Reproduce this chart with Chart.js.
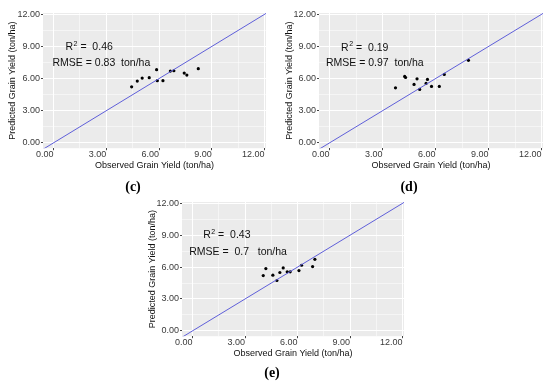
<!DOCTYPE html>
<html>
<head>
<meta charset="utf-8">
<script src="https://cdn.jsdelivr.net/npm/chart.js@4.4.0/dist/chart.umd.min.js"></script>
<style>
  body { margin: 0; background: #fff; }
  #wrap { position: relative; width: 550px; height: 386px; overflow: hidden; }
  canvas { position: absolute; }
</style>
</head>
<body>
<div id="wrap">
  <canvas id="chartC" width="275" height="200" style="left:0;top:0"></canvas>
  <canvas id="chartD" width="275" height="200" style="left:275px;top:0"></canvas>
  <canvas id="chartE" width="280" height="199" style="left:140px;top:186px"></canvas>
</div>
<script>
// axis ticks (major carry labels, minor only get a thin grid line)
const tickVals = [0, 3, 6, 9, 12];
const tickLabels = ['0.00', '3.00', '6.00', '9.00', '12.00'];
const minorVals = [1.5, 4.5, 7.5, 10.5];
const xTitle = 'Observed Grain Yield (ton/ha)';
const yTitle = 'Predicted Grain Yield (ton/ha)';

// panel (c)
const obsC  = [4.44, 4.76, 5.04, 5.44, 5.86, 5.90, 6.22, 6.64, 6.84, 7.43, 7.58, 8.23];
const predC = [5.23, 5.77, 6.05, 6.08, 6.83, 5.80, 5.80, 6.70, 6.73, 6.51, 6.33, 6.92];
// panel (d)
const obsD  = [3.73, 4.25, 4.30, 4.78, 4.95, 5.10, 5.46, 5.54, 5.77, 6.21, 6.49, 7.86];
const predD = [5.14, 6.20, 6.10, 5.45, 5.98, 4.99, 5.55, 5.92, 5.27, 5.27, 6.39, 7.70];
// panel (e)
const obsE  = [4.04, 4.19, 4.59, 4.82, 4.99, 5.18, 5.41, 5.58, 6.08, 6.23, 6.86, 6.99];
const predE = [5.20, 5.86, 5.24, 4.74, 5.49, 5.92, 5.55, 5.55, 5.67, 6.17, 6.05, 6.73];

const panelNames = ['(c)', '(d)', '(e)'];
const rSquared = ['0.46', '0.19', '0.43'];
const rmse = ['0.83', '0.97', '0.7'];

Chart.defaults.font.family = '"Liberation Sans", Arial, sans-serif';

// grey ggplot-like panel background
const panelBg = {
  id: 'panelBg',
  beforeDraw(chart) {
    const a = chart.chartArea;
    chart.ctx.save();
    chart.ctx.fillStyle = '#EBEBEB';
    chart.ctx.fillRect(a.left, a.top, a.right - a.left, a.bottom - a.top);
    chart.ctx.restore();
  }
};

// R^2 and RMSE text placed in data units
const statsText = {
  id: 'statsText',
  afterDatasetsDraw(chart, args, opts) {
    const ctx = chart.ctx;
    const xs = chart.scales.x, ys = chart.scales.y;
    ctx.save();
    ctx.fillStyle = '#111';
    ctx.textBaseline = 'alphabetic';
    ctx.textAlign = 'left';
    let px = xs.getPixelForValue(opts.r2At[0]);
    let py = ys.getPixelForValue(opts.r2At[1]);
    ctx.font = '10.5px "Liberation Sans"';
    ctx.fillText('R', px, py);
    px += ctx.measureText('R').width + 0.5;
    ctx.font = '7px "Liberation Sans"';
    ctx.fillText('2', px, py - 4.5);
    px += ctx.measureText('2').width;
    ctx.font = '10.5px "Liberation Sans"';
    ctx.fillText(' =  ' + opts.r2, px, py);

    const v = opts.rmse.length < 4 ? ' ' + opts.rmse + ' ' : opts.rmse;
    px = xs.getPixelForValue(opts.rmseAt[0]);
    py = ys.getPixelForValue(opts.rmseAt[1]);
    ctx.fillText('RMSE = ' + v + '  ton/ha', px, py);
    ctx.restore();
  }
};

const isMajor = v => tickVals.includes(v);

function makeScale(axis, dims) {
  const horiz = axis === 'x';
  return {
    type: 'linear',
    min: horiz ? -0.6 : -0.5,
    max: horiz ? 12.08 : 12.12,
    afterBuildTicks: s => {
      s.ticks = tickVals.concat(minorVals).sort((a, b) => a - b).map(v => ({ value: v }));
    },
    afterFit: s => {
      if (horiz) s.height = 27; else s.width = dims.yWidth;
    },
    border: { display: false },
    grid: {
      color: '#FFFFFF',
      lineWidth: c => (c.tick && isMajor(c.tick.value)) ? 1 : 0.5,
      tickColor: c => (c.tick && isMajor(c.tick.value)) ? '#444' : 'rgba(0,0,0,0)',
      tickLength: 2,
      drawTicks: true
    },
    ticks: {
      autoSkip: false,
      maxRotation: 0,
      align: horiz ? 'end' : 'center',
      padding: horiz ? -1 : 1,
      color: '#3A3A3A',
      font: { size: 9 },
      callback: v => {
        const i = tickVals.indexOf(v);
        return i >= 0 ? tickLabels[i] : '';
      }
    },
    title: {
      display: true,
      text: horiz ? xTitle : yTitle,
      color: '#111',
      font: { size: 9 },
      padding: horiz ? { top: 0, bottom: 3.8 } : { top: dims.yTitlePad, bottom: 0 }
    }
  };
}

function makeChart(id, idx, obs, pred, dims, r2At, rmseAt) {
  const pts = obs.map((o, i) => ({ x: o, y: pred[i] }));
  return new Chart(document.getElementById(id), {
    data: {
      datasets: [
        {
          type: 'line',
          data: [{ x: -1, y: -1 }, { x: 13, y: 13 }],
          borderColor: '#5F5FD9',
          borderWidth: 1,
          pointRadius: 0
        },
        {
          type: 'scatter',
          data: pts,
          backgroundColor: '#000',
          borderWidth: 0,
          pointRadius: 1.6
        }
      ]
    },
    options: {
      responsive: false,
      animation: false,
      events: [],
      layout: { padding: { top: dims.padTop, right: dims.padRight, left: 0, bottom: 0 } },
      scales: { x: makeScale('x', dims), y: makeScale('y', dims) },
      plugins: {
        legend: { display: false },
        tooltip: { enabled: false },
        title: {
          display: true,
          position: 'bottom',
          text: panelNames[idx],
          color: '#000',
          font: { family: '"Liberation Serif", serif', size: 14, weight: 'bold' },
          padding: dims.titlePad
        },
        statsText: { r2: rSquared[idx], rmse: rmse[idx], r2At: r2At, rmseAt: rmseAt }
      }
    },
    plugins: [panelBg, statsText]
  });
}

makeChart('chartC', 0, obsC, predC,
  { padTop: 13, padRight: 9, yWidth: 43, yTitlePad: 7, titlePad: { top: 4, bottom: 4 } },
  [0.68, 8.66], [-0.06, 7.17]);
makeChart('chartD', 1, obsD, predD,
  { padTop: 13, padRight: 7, yWidth: 44, yTitlePad: 9.5, titlePad: { top: 4, bottom: 4 } },
  [0.65, 8.6], [-0.21, 7.2]);
makeChart('chartE', 2, obsE, predE,
  { padTop: 16, padRight: 16, yWidth: 42, yTitlePad: 7, titlePad: { top: 1.5, bottom: 3.5 } },
  [0.61, 8.7], [-0.19, 7.17]);
</script>
</body>
</html>
